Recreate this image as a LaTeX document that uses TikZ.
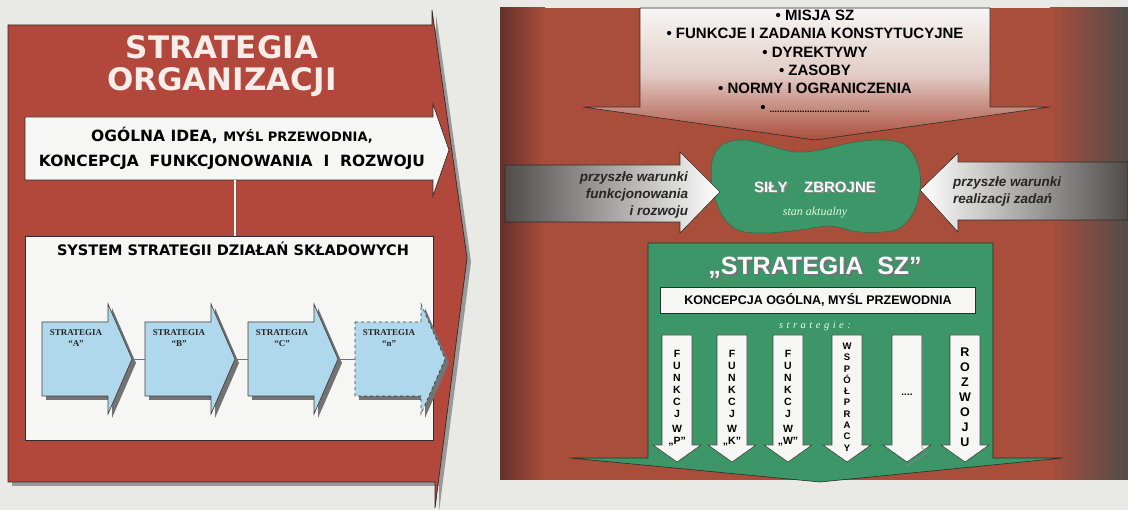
\documentclass[tikz,border=0pt]{standalone}
\usepackage{fontspec}
\setmainfont{Liberation Sans}
\newfontfamily\dvb{DejaVu Sans}
\newfontfamily\lserif{Liberation Serif}
\usetikzlibrary{calc}
\definecolor{paper}{RGB}{233,233,230}
\definecolor{lred}{RGB}{178,72,60}
\definecolor{rred}{RGB}{170,78,60}
\definecolor{rdark}{RGB}{100,48,40}
\definecolor{gdark}{RGB}{80,76,74}
\definecolor{sgreen}{RGB}{60,150,104}
\definecolor{lblue}{RGB}{176,216,236}
\definecolor{boxw}{RGB}{246,246,244}
\definecolor{edge}{RGB}{50,42,40}
\definecolor{titlec}{RGB}{250,236,232}
\begin{document}
\begin{tikzpicture}[x=1pt,y=-1pt,
  every node/.style={inner sep=0pt,outer sep=0pt},
  outl/.style={draw=edge,line width=0.7pt},
  stxt/.style={font=\lserif\bfseries\fontsize{9}{11}\selectfont,align=center,text=black!85},
  vtxt/.style={font=\bfseries\fontsize{10.5}{12}\selectfont,align=center},
  itx/.style={font=\bfseries\itshape\fontsize{13.5}{17}\selectfont,text=black!85}]
\fill[paper] (0,0) rectangle (1128,510);
\useasboundingbox (0,0) rectangle (1128,510);

% ---------------- LEFT PANEL ----------------
\fill[black!40,shift={(4,4)}] (8,25) -- (432,25) -- (432,10) -- (467,258) -- (435,508) -- (435,482) -- (8,482) -- cycle;
\filldraw[fill=lred,outl] (8,25) -- (432,25) -- (432,10) -- (467,258) -- (435,508) -- (435,482) -- (8,482) -- cycle;
\node[font=\dvb\bfseries\fontsize{31}{32}\selectfont,text=titlec,align=center] (title) at (222,66) {STRATEGIA\\ORGANIZACJI};

\filldraw[fill=boxw,outl] (25,117) -- (433,117) -- (433,104) -- (449,150) -- (433,196) -- (433,180) -- (25,180) -- cycle;
\node[font=\dvb\bfseries\fontsize{15.5}{25}\selectfont,align=center] (idea) at (232,148)
  {OGÓLNA IDEA, {\fontsize{13}{25}\selectfont MYŚL PRZEWODNIA,}\\KONCEPCJA\ \ FUNKCJONOWANIA\ \ I\ \ ROZWOJU};
\coordinate (b1s) at (235,180);
\coordinate (b2n) at (235,236);
\draw[white,line width=1.3pt] (b1s) -- (b2n);

\filldraw[fill=boxw,outl] (25,236) rectangle (433,440);
\node[font=\dvb\bfseries\fontsize{14.5}{17}\selectfont] (sys) at (233,249) {SYSTEM STRATEGII DZIAŁAŃ SKŁADOWYCH};

\foreach \L/\lab/\nm/\sty in {42/A/sa/solid,145/B/sb/solid,248/C/sc/solid,355/n/sn/dashed}{
  \fill[black!55,shift={(4,4)}] (\L,322) -- ({\L+66},322) -- ({\L+66},304) -- ({\L+90},359) -- ({\L+66},414) -- ({\L+66},396) -- (\L,396) -- cycle;
  \filldraw[fill=lblue,draw=black!75,line width=0.7pt,\sty] (\L,322) -- ({\L+66},322) -- ({\L+66},304) -- ({\L+90},359) -- ({\L+66},414) -- ({\L+66},396) -- (\L,396) -- cycle;
  \node[stxt] (\nm) at ({\L+34},338) {STRATEGIA\\“\lab”};
  \coordinate (\nm-in) at (\L,359);
  \coordinate (\nm-tip) at ({\L+90},359);
}
\draw[black!55,line width=0.7pt] (sa-tip) -- (sb-in);
\draw[black!55,line width=0.7pt] (sb-tip) -- (sc-in);
\draw[black!55,line width=0.7pt] (sc-tip) -- (sn-in);

% ---------------- RIGHT PANEL ----------------
\fill[rred] (500,8) rectangle (1128,480);
\shade[left color=rdark,right color=rred] (500,8) rectangle (545,480);
\shade[left color=rred,right color=gdark] (1050,8) rectangle (1128,480);

% top arrow
\shadedraw[top color=boxw,bottom color=rred,middle color=boxw!75!rred,draw=edge,line width=0.6pt]
  (640,8) -- (990,8) -- (990,107) -- (1050,107) -- (815,140) -- (583,107) -- (640,107) -- cycle;
\node[font=\bfseries\fontsize{15}{18.4}\selectfont,align=center] (mis) at (815,61)
  {• MISJA SZ\\• FUNKCJE I ZADANIA KONSTYTUCYJNE\\• DYREKTYWY\\• ZASOBY\\• NORMY I OGRANICZENIA\\• {\fontsize{9}{10}\selectfont ........................................}};

% blob
\filldraw[fill=sgreen,draw=sgreen!70!black,line width=0.5pt] plot[smooth cycle,tension=0.6] coordinates
  {(722,145) (745,140) (770,146) (795,152) (820,150) (850,143) (880,140) (905,145) (918,165) (920,190) (912,215) (895,230) (860,232) (830,226) (800,230) (765,233) (738,230) (722,215) (713,190) (712,162)};
\node[font=\bfseries\fontsize{15}{16}\selectfont,text=black!45] (silys) at (816.5,188.5) {SIŁY\ \ \ \ ZBROJNE};
\node[font=\bfseries\fontsize{15}{16}\selectfont,text=white] (sily) at (815,187) {SIŁY\ \ \ \ ZBROJNE};
\node[font=\lserif\itshape\fontsize{12}{13}\selectfont,text=green!15!white] (stan) at (815,213) {stan aktualny};

% grey arrows
\shadedraw[left color=gdark,middle color=black!18,right color=white,draw=edge,line width=0.6pt]
  (505,165) -- (680,165) -- (680,152) -- (720,192) -- (680,233) -- (680,222) -- (505,222) -- cycle;
\node[itx,anchor=east,align=right] (lw) at (688,195) {przyszłe warunki\\funkcjonowania\\i rozwoju};
\shadedraw[left color=white,middle color=black!12,right color=gdark,draw=edge,line width=0.6pt]
  (1128,162) -- (958,162) -- (958,153) -- (920,190) -- (958,232) -- (958,220) -- (1128,220) -- cycle;
\node[itx,anchor=west,align=left] (rw) at (953,192) {przyszłe warunki\\realizacji zadań};

% green bottom arrow
\filldraw[fill=sgreen,draw=edge,line width=0.6pt]
  (648,243) -- (993,243) -- (993,458) -- (1063,458) -- (820,482) -- (570,458) -- (648,458) -- cycle;
\node[font=\bfseries\fontsize{25}{28}\selectfont,text=black!55] (stszs) at (817,270) {„STRATEGIA\ \ SZ”};
\node[font=\bfseries\fontsize{25}{28}\selectfont,text=white] (stsz) at (815,268) {„STRATEGIA\ \ SZ”};
\node[draw=edge,fill=boxw,line width=0.5pt,minimum width=315,minimum height=26,font=\bfseries\fontsize{12.5}{14}\selectfont] (konc) at (818,300) {KONCEPCJA OGÓLNA, MYŚL PRZEWODNIA};
\node[font=\lserif\itshape\fontsize{10.5}{12}\selectfont,text=green!10!white] (strg) at (815,326) {s\,\,t\,\,r\,\,a\,\,t\,\,e\,\,g\,\,i\,\,e\,\,:};

\foreach \c/\nm in {677/d1,732/d2,788/d3,847/d4,907/d5,965/d6}{
  \filldraw[fill=boxw,draw=black!75,line width=0.6pt] ({\c-15},335) -- ({\c+15},335) -- ({\c+15},445) -- ({\c+24},445) -- (\c,462) -- ({\c-24},445) -- ({\c-15},445) -- cycle;
  \coordinate (\nm) at (\c,398);
}
\draw[black!45,line width=0.6pt] (922,338) -- (922,448) -- (926,450);
\draw[black!45,line width=0.6pt] (907,466) -- (928,452);
\node[vtxt] (t1) at (d1) {F\\U\\N\\K\\C\\J\\[3pt]W\\„P”};
\node[vtxt] (t2) at (d2) {F\\U\\N\\K\\C\\J\\[3pt]W\\„K”};
\node[vtxt] (t3) at (d3) {F\\U\\N\\K\\C\\J\\[3pt]W\\„W”};
\node[font=\bfseries\fontsize{9.5}{11.3}\selectfont,align=center] (t4) at (847,397) {W\\S\\P\\Ó\\Ł\\P\\R\\A\\C\\Y};
\node[font=\bfseries\fontsize{10}{12}\selectfont] (t5) at (907,395) {....};
\node[font=\bfseries\fontsize{12.5}{15}\selectfont,align=center] (t6) at (965,397) {R\\O\\Z\\W\\O\\J\\U};
\end{tikzpicture}
\end{document}
